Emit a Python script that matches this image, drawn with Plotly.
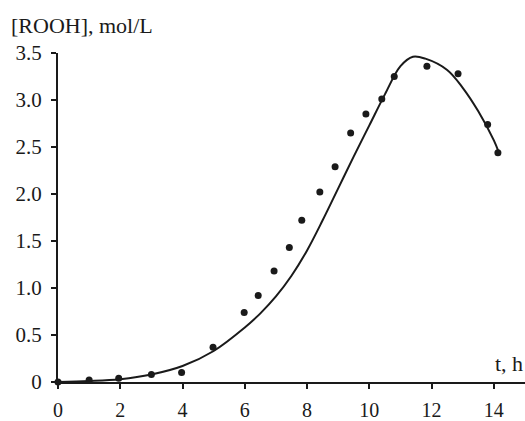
import plotly.graph_objects as go

# Experimental points
t_exp = [0, 1.0, 1.95, 3.0, 3.97, 4.98, 5.98, 6.43, 6.94, 7.43, 7.83, 8.41, 8.9, 9.4, 9.89, 10.4, 10.8, 11.85, 12.85, 13.8, 14.13]
rooh_exp = [0, 0.02, 0.04, 0.08, 0.10, 0.37, 0.74, 0.92, 1.18, 1.43, 1.72, 2.02, 2.29, 2.65, 2.85, 3.01, 3.25, 3.36, 3.28, 2.74, 2.44]

# Model curve
t_model = [0, 1, 2, 3, 4, 5, 6, 6.5, 7, 7.5, 8, 8.5, 9, 9.5, 10, 10.5, 11, 11.4, 11.8, 12.5, 13, 13.5, 14, 14.15]
rooh_model = [0, 0.01, 0.03, 0.08, 0.17, 0.33, 0.58, 0.73, 0.91, 1.13, 1.40, 1.72, 2.06, 2.40, 2.73, 3.06, 3.36, 3.46, 3.44, 3.32, 3.13, 2.88, 2.57, 2.45]

x_ticks = [0, 2, 4, 6, 8, 10, 12, 14]
y_ticks = [0, 0.5, 1.0, 1.5, 2.0, 2.5, 3.0, 3.5]
y_ticktext = ["0", "0.5", "1.0", "1.5", "2.0", "2.5", "3.0", "3.5"]

FONT = "Liberation Serif, Times New Roman, serif"
INK = "#1a1a1a"

fig = go.Figure()
fig.add_trace(go.Scatter(x=t_model, y=rooh_model, mode="lines",
                         line=dict(color=INK, width=2, shape="spline", smoothing=1.0),
                         cliponaxis=False, showlegend=False))
fig.add_trace(go.Scatter(x=t_exp, y=rooh_exp, mode="markers",
                         marker=dict(color=INK, size=7),
                         cliponaxis=False, showlegend=False))

fig.update_layout(
    width=525, height=421,
    margin=dict(l=58, r=0, t=53, b=39),
    paper_bgcolor="white", plot_bgcolor="white",
    font=dict(family=FONT, size=18, color=INK),
    xaxis=dict(range=[0, 15], showgrid=False, zeroline=False, automargin=False,
               showline=True, linecolor=INK, linewidth=2,
               ticks="outside", ticklen=5, tickwidth=2, tickcolor=INK,
               tickvals=x_ticks, ticklabelstandoff=4,
               tickfont=dict(family=FONT, size=20, color=INK)),
    yaxis=dict(range=[0, 3.5], showgrid=False, zeroline=False, automargin=False,
               showline=True, linecolor=INK, linewidth=2,
               ticks="outside", ticklen=5, tickwidth=2, tickcolor=INK,
               tickvals=y_ticks, ticktext=y_ticktext, ticklabelstandoff=5,
               tickfont=dict(family=FONT, size=21, color=INK)),
    annotations=[
        dict(text="[ROOH], mol/L", xref="paper", yref="paper",
             x=(9 - 58) / 467, y=(382 - 25) / 329, xanchor="left", yanchor="middle",
             showarrow=False, font=dict(family=FONT, size=22, color=INK)),
        dict(text="t, h", xref="x", yref="y", x=15.0, y=0.2,
             xanchor="right", yanchor="middle", showarrow=False,
             font=dict(family=FONT, size=22, color=INK)),
    ],
)

fig.write_html("out.html", config={"displayModeBar": False},
               post_script="document.body.style.margin='0';document.body.style.overflow='hidden';")
